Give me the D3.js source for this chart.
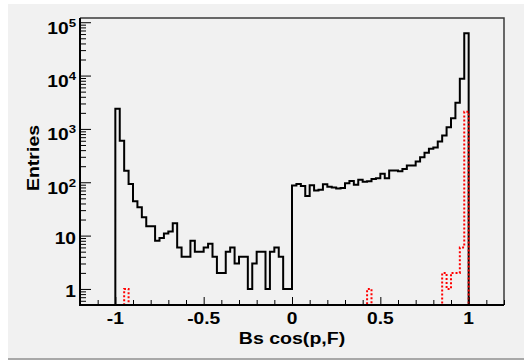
<!DOCTYPE html>
<html>
<head>
<meta charset="utf-8">
<script src="https://cdn.jsdelivr.net/npm/d3@7"></script>
<style>
body { margin: 0; background: #fff; }
svg { display: block; font-family: "Liberation Sans", Arial, sans-serif; font-weight: bold; }
</style>
</head>
<body>
<div id="chart"></div>
<script>
// histogram binning: 0.025 wide bins, filled part covers [-1, 1]
var binWidth = 0.025;
var binStart = -1;
// all candidates (black solid)
var allCounts = [
  2400, 600, 165, 93, 44, 34, 22, 15, 15, 8,
  9, 11, 12, 17, 6, 4, 4, 8, 5, 5,
  6, 7, 4, 2, 2, 5, 6, 3, 4, 4,
  1, 3, 5, 5, 1, 5, 6, 4, 1, 1,
  87, 93, 85, 55, 88, 70, 72, 92, 82, 80,
  76, 78, 96, 105, 90, 112, 102, 104, 115, 119,
  144, 119, 166, 166, 160, 178, 206, 206, 245, 295,
  356, 424, 448, 580, 752, 1075, 1590, 3090, 8700, 62400
];
// truth matched (red dotted)
var matchedCounts = [
  0, 0, 1, 0, 0, 0, 0, 0, 0, 0,
  0, 0, 0, 0, 0, 0, 0, 0, 0, 0,
  0, 0, 0, 0, 0, 0, 0, 0, 0, 0,
  0, 0, 0, 0, 0, 0, 0, 0, 0, 0,
  0, 0, 0, 0, 0, 0, 0, 0, 0, 0,
  0, 0, 0, 0, 0, 0, 0, 1, 0, 0,
  0, 0, 0, 0, 0, 0, 0, 0, 0, 0,
  0, 0, 0, 0, 2, 1, 2, 2, 6, 2100
];
var xMajor = [-1, -0.5, 0, 0.5, 1];
var xLabels = ["-1", "-0.5", "0", "0.5", "1"];
var yMajor = [1, 10, 100, 1000, 10000, 100000];
var yExp = [null, null, "2", "3", "4", "5"];
var yBase = ["1", "10", "10", "10", "10", "10"];

var W = 524, H = 362;
var frame = { left: 80, right: 504, top: 18, bottom: 305 };
var yFloor = 0.5;

var svg = d3.select("#chart").append("svg")
    .attr("width", W)
    .attr("height", H);

// canvas pad
svg.append("rect")
    .attr("x", 8).attr("y", 4)
    .attr("width", W - 8).attr("height", 354)
    .style("fill", "#f1f1f1");
svg.append("line")
    .attr("x1", 8).attr("x2", W)
    .attr("y1", 359).attr("y2", 359)
    .style("stroke", "#a8a8a8")
    .style("stroke-width", "2px");

var x = d3.scaleLinear()
    .domain([-1.2, 1.2])
    .range([frame.left, frame.right]);
var y = d3.scaleLog()
    .domain([yFloor, 1.2e5])
    .range([frame.bottom, frame.top]);

// frame top/right
svg.append("path")
    .attr("d", "M" + frame.left + "," + frame.top + "H" + frame.right + "V" + frame.bottom)
    .style("fill", "none")
    .style("stroke", "#3a3a3a")
    .style("stroke-width", "1.5px");

function stepPoints(counts) {
    var pts = [[x.domain()[0], 0], [binStart, 0]];
    counts.forEach(function (c, i) {
        var lo = binStart + i * binWidth;
        pts.push([lo, c], [lo + binWidth, c]);
    });
    pts.push([binStart + counts.length * binWidth, 0], [x.domain()[1], 0]);
    return pts;
}

var line = d3.line()
    .x(function (d) { return x(d[0]); })
    .y(function (d) { return y(Math.max(d[1], yFloor)); });

svg.append("path")
    .datum(stepPoints(allCounts))
    .attr("class", "line")
    .attr("d", line)
    .style("fill", "none")
    .style("stroke", "#000")
    .style("stroke-width", "2px");

svg.append("path")
    .datum(stepPoints(matchedCounts))
    .attr("class", "line")
    .attr("d", line)
    .style("fill", "none")
    .style("stroke", "#ff0000")
    .style("stroke-width", "2px")
    .style("stroke-dasharray", "2,2");

// y axis ticks (inward)
svg.append("g")
    .attr("class", "y axis")
    .attr("transform", "translate(" + frame.left + ",0)")
    .call(d3.axisLeft(y).tickValues(y.ticks().filter(function (t) { return yMajor.indexOf(t) < 0; }))
        .tickSize(-6).tickFormat(""));
svg.append("g")
    .attr("class", "y axis")
    .attr("transform", "translate(" + frame.left + ",0)")
    .call(d3.axisLeft(y).tickValues(yMajor).tickSize(-11).tickFormat(""));

// x axis ticks (inward)
svg.append("g")
    .attr("class", "x axis")
    .attr("transform", "translate(0," + frame.bottom + ")")
    .call(d3.axisBottom(x).tickValues(x.ticks(24).filter(function (t) {
        return xMajor.indexOf(Math.round(t * 10) / 10) < 0;
    })).tickSize(-5).tickFormat(""));
svg.append("g")
    .attr("class", "x axis")
    .attr("transform", "translate(0," + frame.bottom + ")")
    .call(d3.axisBottom(x).tickValues(xMajor).tickSize(-8).tickFormat(""));

svg.selectAll(".axis path").style("display", "none");
svg.selectAll(".axis line").style("stroke", "#000").style("stroke-width", "1px");

// axis lines
svg.append("path")
    .attr("d", "M" + frame.left + "," + frame.top + "V" + frame.bottom + "H" + frame.right)
    .style("fill", "none")
    .style("stroke", "#000")
    .style("stroke-width", "2px");

// text is slightly stretched horizontally, like the original rendering
function label(px, py, size, anchor, sx, rot) {
    return svg.append("text")
        .attr("transform", "translate(" + px + "," + py + ")" + (rot ? " rotate(" + rot + ")" : "") + " scale(" + sx + ",1)")
        .style("text-anchor", anchor)
        .style("font-size", size + "px")
        .style("fill", "#000");
}

// y labels
yMajor.forEach(function (v, i) {
    var t = label(76, y(v) + (yExp[i] ? 11.5 : 8), 16, "end", 1.2);
    t.append("tspan").text(yBase[i]);
    if (yExp[i]) {
        t.append("tspan")
            .attr("dy", -7)
            .style("font-size", "11px")
            .text(yExp[i]);
    }
});

// x labels
xMajor.forEach(function (v, i) {
    label(x(v), 324, 16, "middle", 1.2).text(xLabels[i]);
});

label((frame.left + frame.right) / 2, 344, 17, "middle", 1.15).text("Bs cos(p,F)");
label(38.5, 158, 17, "middle", 1.15, -90).text("Entries");
</script>
</body>
</html>
